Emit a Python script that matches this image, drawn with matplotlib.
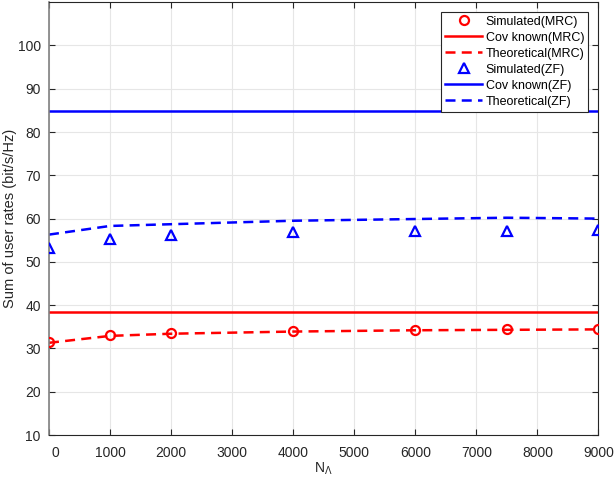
import matplotlib
matplotlib.use("Agg")
import matplotlib.pyplot as plt
import matplotlib.transforms as mtransforms

plt.rcParams['font.family'] = ['Liberation Sans', 'DejaVu Sans']
plt.rcParams['mathtext.fontset'] = 'custom'
plt.rcParams['mathtext.rm'] = 'Liberation Sans'

# Data
n_lambda = [0, 1000, 2000, 4000, 6000, 7500, 9000]
sim_mrc = [31.4, 33.1, 33.5, 34.0, 34.2, 34.4, 34.4]
theo_mrc = [31.3, 32.9, 33.4, 33.9, 34.2, 34.3, 34.4]
cov_mrc = 38.4
sim_zf = [53.2, 55.2, 56.2, 56.8, 57.1, 57.2, 57.4]
theo_zf = [56.3, 58.3, 58.7, 59.5, 59.9, 60.2, 60.0]
cov_zf = 84.8

xticks = [0, 1000, 2000, 3000, 4000, 5000, 6000, 7000, 8000, 9000]
yticks = [10, 20, 30, 40, 50, 60, 70, 80, 90, 100]

fig = plt.figure(figsize=(6.16, 4.82), dpi=100)
ax = fig.add_axes([0.0795, 0.0975, 0.892, 0.898])

red = '#ff0000'
blue = '#0000ff'
ax.plot(n_lambda, sim_mrc, linestyle='none', marker='o', markersize=6.5,
        markerfacecolor='none', markeredgecolor=red, markeredgewidth=1.6,
        label='Simulated(MRC)', zorder=4)
ax.plot([n_lambda[0], n_lambda[-1]], [cov_mrc, cov_mrc], color=red, lw=1.8,
        label='Cov known(MRC)')
ax.plot(n_lambda, theo_mrc, color=red, lw=1.8, linestyle=(0, (4, 2.5)),
        label='Theoretical(MRC)')
ax.plot(n_lambda, sim_zf, linestyle='none', marker='^', markersize=7.5,
        markerfacecolor='none', markeredgecolor=blue, markeredgewidth=1.6,
        label='Simulated(ZF)', zorder=4)
ax.plot([n_lambda[0], n_lambda[-1]], [cov_zf, cov_zf], color=blue, lw=1.8,
        label='Cov known(ZF)')
ax.plot(n_lambda, theo_zf, color=blue, lw=1.8, linestyle=(0, (4, 2.5)),
        label='Theoretical(ZF)')

ax.set_xlim(0, 9000)
ax.set_ylim(10, 110)
ax.set_xticks(xticks)
ax.set_yticks(yticks)
ax.grid(True, color='#e6e6e6', linewidth=0.8)
ax.set_axisbelow(True)
ax.tick_params(direction='in', length=4, labelsize=10, colors='#262626',
               top=True, right=True)
ax.tick_params(axis='x', pad=8)
ax.tick_params(axis='y', pad=6)
for s in ax.spines.values():
    s.set_color('#262626')
    s.set_linewidth(0.8)
ax.spines['left'].set_color('#808080')
ax.spines['left'].set_linewidth(1.2)

# shift the "0" label slightly right as in the reference
fig.canvas.draw()
lbl0 = ax.get_xticklabels()[0]
lbl0.set_transform(lbl0.get_transform() +
                   mtransforms.ScaledTranslation(6 / 100, 0, fig.dpi_scale_trans))

ax.set_xlabel(r'N$_{\Lambda}$', fontsize=10, color='#262626', labelpad=0)
ax.set_ylabel('Sum of user rates (bit/s/Hz)', fontsize=10.5, color='#262626')
ax.yaxis.set_label_coords(-0.059, 0.5)

leg = ax.legend(loc='upper right', fontsize=9, handlelength=3.0, handletextpad=0.25,
                labelspacing=0.32, borderpad=0.3, borderaxespad=0.0, fancybox=False,
                framealpha=1, edgecolor='#262626', bbox_to_anchor=(0.981, 0.977))
leg.get_frame().set_linewidth(0.8)

fig.savefig('out.png', dpi=100)
